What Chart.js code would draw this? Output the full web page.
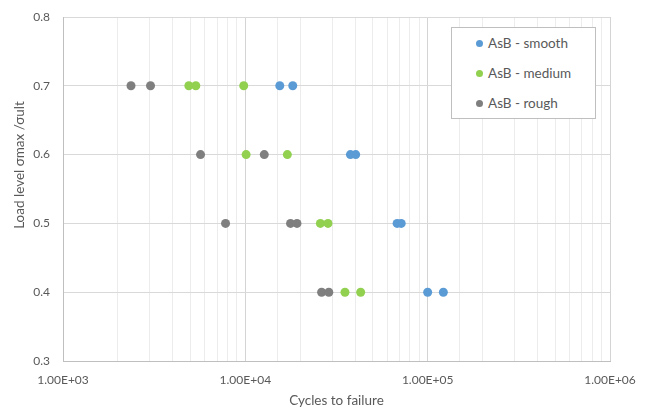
<!DOCTYPE html>
<html>
<head>
<meta charset="utf-8">
<script src="https://cdn.jsdelivr.net/npm/chart.js@4/dist/chart.umd.min.js"></script>
<style>
  html, body { margin: 0; padding: 0; background: #fff; }
  #wrap { position: relative; width: 646px; height: 410px; }
  #legend {
    position: absolute; left: 451px; top: 27px; width: 143px; height: 90px;
    border: 1px solid #bfbfbf; background: #fff;
    font-family: Lato, "Open Sans", sans-serif; font-size: 13.5px; color: #595959;
  }
  .item { position: absolute; left: 24px; height: 20px; display: flex; align-items: center; white-space: nowrap; }
  .dot { width: 7px; height: 7px; border-radius: 50%; margin-right: 5px; }
</style>
</head>
<body>
<div id="wrap">
  <canvas id="c" width="646" height="410"></canvas>
  <div id="legend"></div>
</div>
<script>
// Fatigue test results: cycles to failure at each load level
const seriesNames = ['AsB - smooth', 'AsB - medium', 'AsB - rough'];
const seriesColors = ['#5b9bd5', '#92d050', '#7f7f7f'];

const smoothCycles = [15450, 18200, 37700, 40300, 68000, 71600, 100000, 121900];
const smoothLoad   = [0.7, 0.7, 0.6, 0.6, 0.5, 0.5, 0.4, 0.4];

const mediumCycles = [4900, 5350, 9800, 10100, 17000, 25800, 28400, 35200, 42900];
const mediumLoad   = [0.7, 0.7, 0.7, 0.6, 0.6, 0.5, 0.5, 0.4, 0.4];

const roughCycles = [2360, 3020, 5680, 12700, 7790, 17700, 19200, 26200, 28700];
const roughLoad   = [0.7, 0.7, 0.6, 0.6, 0.5, 0.5, 0.5, 0.4, 0.4];

const xTickLabels = ['1.00E+03', '1.00E+04', '1.00E+05', '1.00E+06'];
const yTickLabels = ['0.3', '0.4', '0.5', '0.6', '0.7', '0.8'];

const xTitle = 'Cycles to failure';
const yTitle = 'Load level σmax /σult';

const FONT = 'Lato, "Open Sans", sans-serif';
const TEXT = '#595959';

function toPoints(xs, ys) { return xs.map((x, i) => ({ x: x, y: ys[i] })); }
const seriesData = [
  toPoints(smoothCycles, smoothLoad),
  toPoints(mediumCycles, mediumLoad),
  toPoints(roughCycles, roughLoad)
];

function isDecade(v) {
  const e = Math.log10(v);
  return Math.abs(e - Math.round(e)) < 1e-9;
}

// let the layout padding alone decide where the plot area sits
function noScalePadding(s) {
  s.paddingTop = 0; s.paddingBottom = 0; s.paddingLeft = 0; s.paddingRight = 0;
}

const axisTitles = {
  id: 'axisTitles',
  afterDraw(chart) {
    const ctx = chart.ctx;
    ctx.save();
    ctx.fillStyle = TEXT;
    ctx.font = '13.5px ' + FONT;
    ctx.textAlign = 'center';
    ctx.textBaseline = 'middle';
    ctx.fillText(xTitle, (chart.chartArea.left + chart.chartArea.right) / 2, 401);
    ctx.translate(20, 165);
    ctx.rotate(-Math.PI / 2);
    ctx.fillText(yTitle, 0, 0);
    ctx.restore();
  }
};

new Chart(document.getElementById('c'), {
  type: 'scatter',
  data: {
    datasets: seriesNames.map((name, i) => ({
      label: name,
      data: seriesData[i],
      backgroundColor: seriesColors[i],
      borderColor: seriesColors[i],
      borderWidth: 0,
      pointRadius: 4.5,
      pointHoverRadius: 4.5
    }))
  },
  options: {
    responsive: false,
    devicePixelRatio: 1,
    animation: false,
    layout: { padding: { top: 17, right: 36, left: 0, bottom: 0 } },
    plugins: { legend: { display: false }, tooltip: { enabled: false } },
    scales: {
      x: {
        type: 'logarithmic',
        min: 1000,
        max: 1000000,
        afterFit: s => { s.height = 49; noScalePadding(s); },
        border: { color: '#bfbfbf' },
        grid: {
          drawTicks: false,
          color: c => (c.tick && isDecade(c.tick.value)) ? '#d4d4d4' : '#ececec'
        },
        ticks: {
          autoSkip: false,
          maxRotation: 0,
          padding: 12,
          color: TEXT,
          font: { family: FONT, size: 12 },
          callback: v => isDecade(v) ? xTickLabels[Math.round(Math.log10(v)) - 3] : ''
        }
      },
      y: {
        min: 0.3,
        max: 0.8,
        afterFit: s => { s.width = 63; noScalePadding(s); },
        border: { color: '#bfbfbf' },
        grid: { drawTicks: false, color: '#d9d9d9' },
        ticks: {
          stepSize: 0.1,
          padding: 13,
          color: TEXT,
          font: { family: FONT, size: 12 },
          callback: v => yTickLabels[Math.round((v - 0.3) * 10)]
        }
      }
    }
  },
  plugins: [axisTitles]
});

// legend box
const legend = document.getElementById('legend');
seriesNames.forEach((name, i) => {
  const item = document.createElement('div');
  item.className = 'item';
  item.style.top = (5 + i * 30) + 'px';
  const dot = document.createElement('span');
  dot.className = 'dot';
  dot.style.background = seriesColors[i];
  item.appendChild(dot);
  item.appendChild(document.createTextNode(name));
  legend.appendChild(item);
});
</script>
</body>
</html>
